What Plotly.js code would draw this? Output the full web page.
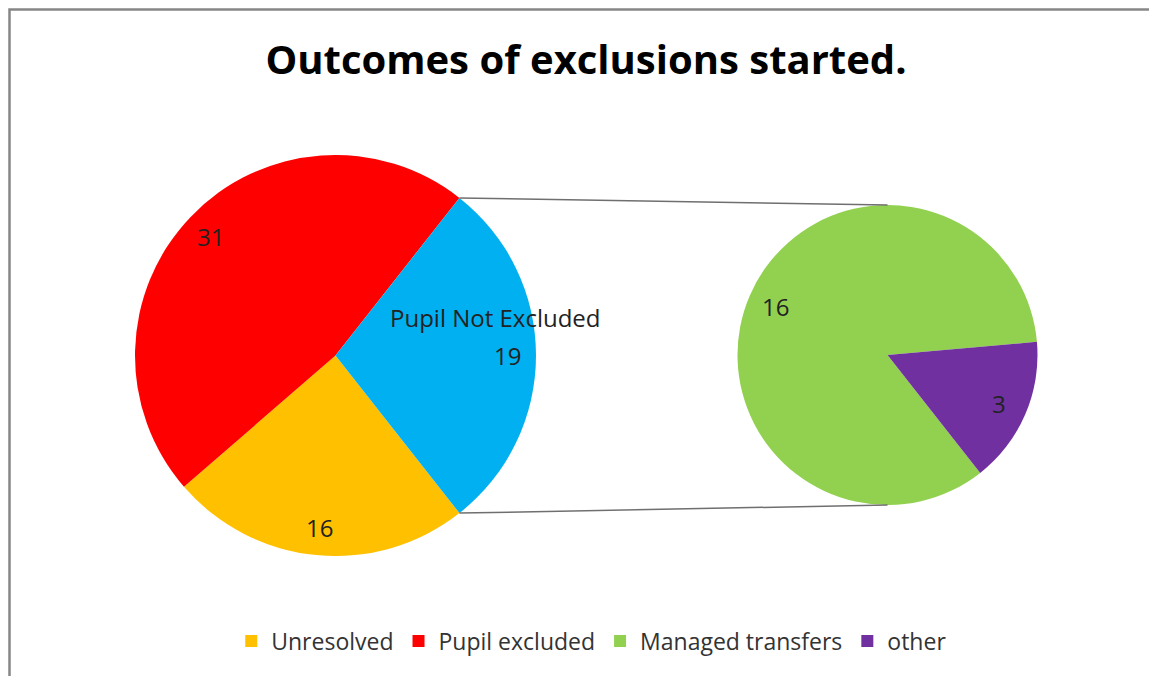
<!DOCTYPE html>
<html>
<head>
<meta charset="utf-8">
<script src="https://cdn.plot.ly/plotly-3.0.1.min.js"></script>
<style>html,body{margin:0;padding:0;background:#fff;}#chart{width:1149px;height:676px;}</style>
</head>
<body>
<div id="chart"></div>
<script>
// ---- data ----
const mainCategories = ['Unresolved', 'Pupil excluded', 'Pupil Not Excluded'];
const mainValues = [16, 31, 19];
const subCategories = ['Managed transfers', 'other'];
const subValues = [16, 3];
const legendCategories = ['Unresolved', 'Pupil excluded', 'Managed transfers', 'other'];
const titleText = 'Outcomes of exclusions started.';

// ---- styles ----
const colorMap = {
  'Unresolved': '#FFC000',
  'Pupil excluded': '#FF0000',
  'Pupil Not Excluded': '#00B0F0',
  'Managed transfers': '#92D050',
  'other': '#7030A0'
};
const FONT = '"Open Sans", Carlito, Lato, sans-serif';
const W = 1149, H = 676;

// pie geometry (pixels)
const main = {cx: 335.5, cy: 355.5, r: 200.5};
const sub = {cx: 887.5, cy: 355, r: 150};
const dom = p => ({x: [(p.cx - p.r) / W, (p.cx + p.r) / W], y: [1 - (p.cy + p.r) / H, 1 - (p.cy - p.r) / H]});

const sum = a => a.reduce((s, v) => s + v, 0);
const mainTotal = sum(mainValues);
const subTotal = sum(subValues);
// split slice (last of main) centred on the right-hand side
const rotation = 90 + 180 * mainValues[mainValues.length - 1] / mainTotal;

function labelPoints(p, values, total, frac) {
  let start = rotation;
  return values.map(v => {
    const span = 360 * v / total;
    const mid = (start + span / 2) * Math.PI / 180;
    start += span;
    const rho = p.r * frac;
    return {x: (p.cx + rho * Math.sin(mid)) / W, y: 1 - (p.cy - rho * Math.cos(mid)) / H};
  });
}

const traces = [
  {
    type: 'pie', labels: mainCategories, values: mainValues, sort: false,
    direction: 'clockwise', rotation: rotation, domain: dom(main),
    marker: {colors: mainCategories.map(c => colorMap[c]), line: {width: 0}},
    textinfo: 'none', hoverinfo: 'label+value', showlegend: false
  },
  {
    type: 'pie', labels: subCategories, values: subValues, sort: false,
    direction: 'clockwise', rotation: rotation, domain: dom(sub),
    marker: {colors: subCategories.map(c => colorMap[c]), line: {width: 0}},
    textinfo: 'none', hoverinfo: 'label+value', showlegend: false
  }
];
legendCategories.forEach(c => traces.push({
  type: 'scatter', mode: 'markers', x: [null], y: [null], name: c,
  marker: {symbol: 'square', size: 12, color: colorMap[c]}, hoverinfo: 'skip'
}));

const annotations = [];
const labelFont = {family: FONT, size: 24, color: '#222222'};
labelPoints(main, mainValues, mainTotal, 0.86).forEach((pt, i) => {
  annotations.push({xref: 'paper', yref: 'paper', x: pt.x, y: pt.y, text: String(mainValues[i]),
    showarrow: false, font: labelFont, xanchor: 'center', yanchor: 'middle'});
});
// category name for the split slice
const splitPt = labelPoints(main, mainValues, mainTotal, 0.86)[mainValues.length - 1];
annotations.push({xref: 'paper', yref: 'paper', x: splitPt.x, y: splitPt.y, xshift: -12, yshift: 38,
  text: mainCategories[mainCategories.length - 1], showarrow: false, font: labelFont,
  xanchor: 'center', yanchor: 'middle'});
labelPoints(sub, subValues, subTotal, 0.81).forEach((pt, i) => {
  annotations.push({xref: 'paper', yref: 'paper', x: pt.x, y: pt.y, text: String(subValues[i]),
    showarrow: false, font: labelFont, xanchor: 'center', yanchor: 'middle'});
});

// connector lines from split slice edges to secondary pie top/bottom
const half = Math.PI * mainValues[mainValues.length - 1] / mainTotal;
const ex = main.cx + main.r * Math.cos(half);
const eyTop = main.cy - main.r * Math.sin(half);
const eyBot = main.cy + main.r * Math.sin(half);
const shapes = [
  {type: 'line', xref: 'paper', yref: 'paper', x0: ex / W, y0: 1 - eyTop / H, x1: sub.cx / W, y1: 1 - (sub.cy - sub.r) / H,
    line: {color: '#6f6f6f', width: 1.5}},
  {type: 'line', xref: 'paper', yref: 'paper', x0: ex / W, y0: 1 - eyBot / H, x1: sub.cx / W, y1: 1 - (sub.cy + sub.r) / H,
    line: {color: '#6f6f6f', width: 1.5}},
  {type: 'rect', xref: 'paper', yref: 'paper', x0: 9.5 / W, x1: 1.05, y0: -0.05, y1: 1 - 9.5 / H,
    line: {color: '#868686', width: 2.5}, layer: 'below'}
];

const layout = {
  width: W, height: H,
  margin: {l: 0, r: 0, t: 0, b: 0},
  paper_bgcolor: '#ffffff', plot_bgcolor: '#ffffff',
  title: {text: titleText, font: {family: FONT, size: 40, color: '#000000', weight: 'bold'},
    x: 0.51, xanchor: 'center', y: 1 - 60 / H, yanchor: 'middle', xref: 'paper', yref: 'paper'},
  xaxis: {visible: false}, yaxis: {visible: false},
  showlegend: true,
  legend: {orientation: 'h', x: 0.515, xanchor: 'center', y: 1 - 641 / H, yanchor: 'middle',
    font: {family: FONT, size: 23, color: '#333333'}, itemwidth: 30, traceorder: 'normal',
    bgcolor: 'rgba(0,0,0,0)'},
  annotations: annotations,
  shapes: shapes
};

Plotly.newPlot('chart', traces, layout, {displayModeBar: false, staticPlot: true});
</script>
</body>
</html>
